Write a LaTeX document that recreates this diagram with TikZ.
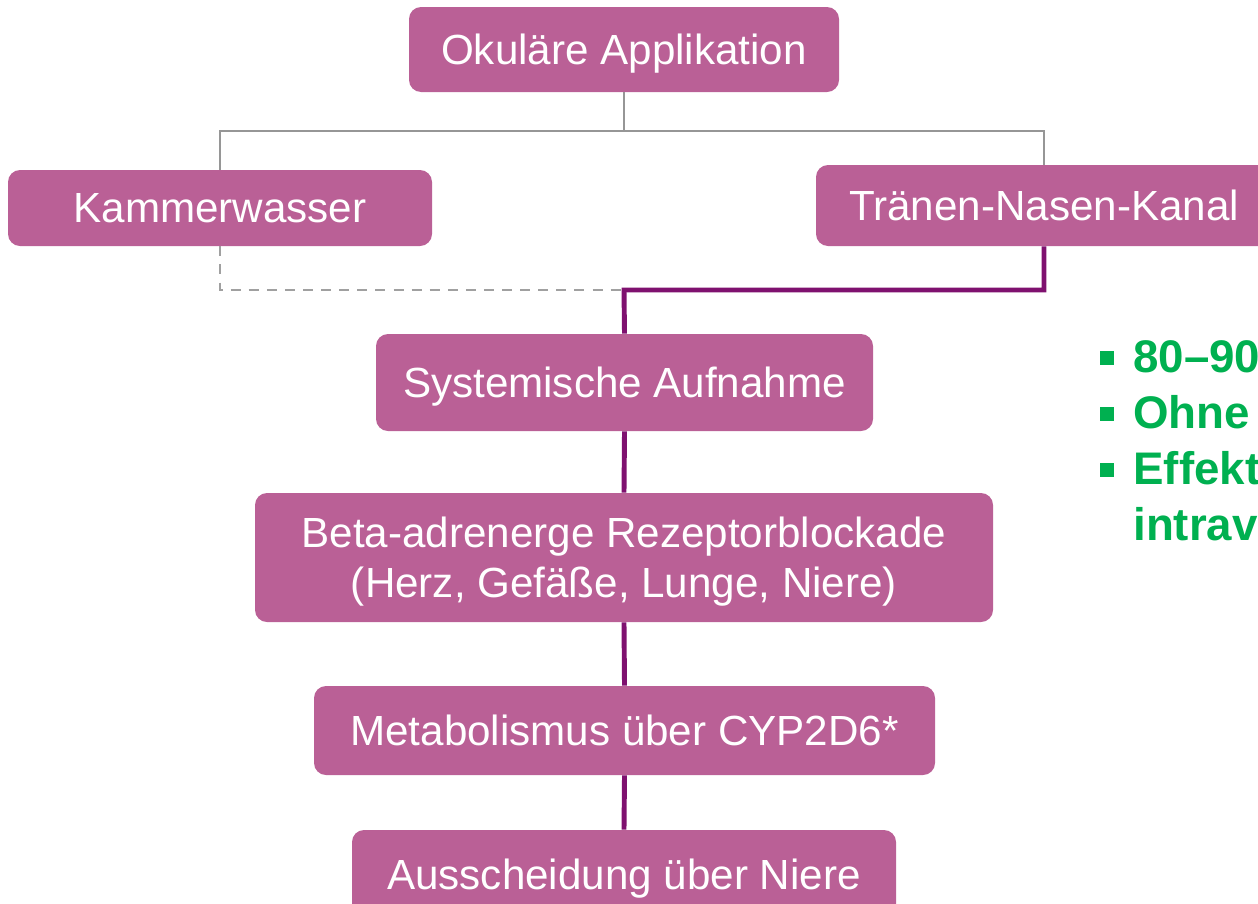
\documentclass[tikz,border=0pt]{standalone}
\usepackage{fontspec}
\setmainfont{Liberation Sans}
\definecolor{boxpink}{RGB}{186,96,150}
\definecolor{linepurple}{RGB}{127,17,111}
\definecolor{linegray}{RGB}{150,150,150}
\definecolor{dashgray}{RGB}{160,160,160}
\definecolor{bulletgreen}{RGB}{0,176,80}
\tikzset{
  pbox/.style n args={2}{draw=none, fill=boxpink, rounded corners=0.24cm, text=white,
    minimum width=#1*0.02cm, minimum height=#2*0.02cm, inner sep=0pt, align=center,
    text depth=0pt, font=\fontsize{24pt}{28.5pt}\selectfont},
  gline/.style={draw=linegray, line width=1.1pt},
  dline/.style={draw=dashgray, line width=1.1pt, dash pattern=on 5.7pt off 4.6pt},
  pline/.style={draw=linepurple, line width=2.8pt},
  gtext/.style={text=bulletgreen, font=\fontsize{26pt}{31pt}\selectfont\bfseries, inner sep=0pt, anchor=base west},
  gbullet/.style={fill=bulletgreen, draw=none, minimum size=14*0.02cm, inner sep=0pt}
}
\begin{document}
\begin{tikzpicture}[x=0.02cm, y=-0.02cm]
\useasboundingbox (0,0) rectangle (1258,903);
\clip (0,0) rectangle (1258,903);
% coordinates
\coordinate (j1) at (624,131);
\coordinate (j2) at (624,290);
% boxes
\node[pbox={430}{85}] (ok) at (624,49.5) {Okuläre Applikation};
\node[pbox={424}{76}] (kw) at (220,208) {Kammerwasser};
\node[pbox={456}{81}] (tn) at (1044,205.5) {Tränen-Nasen-Kanal};
\node[pbox={497}{97}] (sa) at (624.5,382.5) {Systemische Aufnahme};
\node[pbox={738}{129}] (bb) at (624,557.5) {Beta-adrenerge Rezeptorblockade\\(Herz, Gefäße, Lunge, Niere)};
\node[pbox={621}{89}] (mb) at (624.5,730.5) {Metabolismus über CYP2D6*};
\node[pbox={544}{89}] (au) at (624,874.5) {Ausscheidung über Niere};
% connectors
\draw[gline] (ok.south) -- (j1);
\draw[gline] (kw.north) |- (j1) -| (tn.north);
\draw[dline] (kw.south) |- (j2);
\draw[pline] (tn.south) |- (j2) -- (sa.north);
\draw[pline] (sa.south) -- (bb.north);
\draw[pline] (bb.south) -- (mb.north);
\draw[pline] (mb.south) -- (au.north);
% green bullet list
\node[gbullet] (b1) at (1107,358) {};
\node[gbullet] (b2) at (1107,414) {};
\node[gbullet] (b3) at (1107,470) {};
\node[gtext] (t1) at (1133,372) {80–90};
\node[gtext] (t2) at (1133,428) {Ohne};
\node[gtext] (t3) at (1133,484) {Effekt};
\node[gtext] (t4) at (1133,540) {intrav};
\end{tikzpicture}
\end{document}
